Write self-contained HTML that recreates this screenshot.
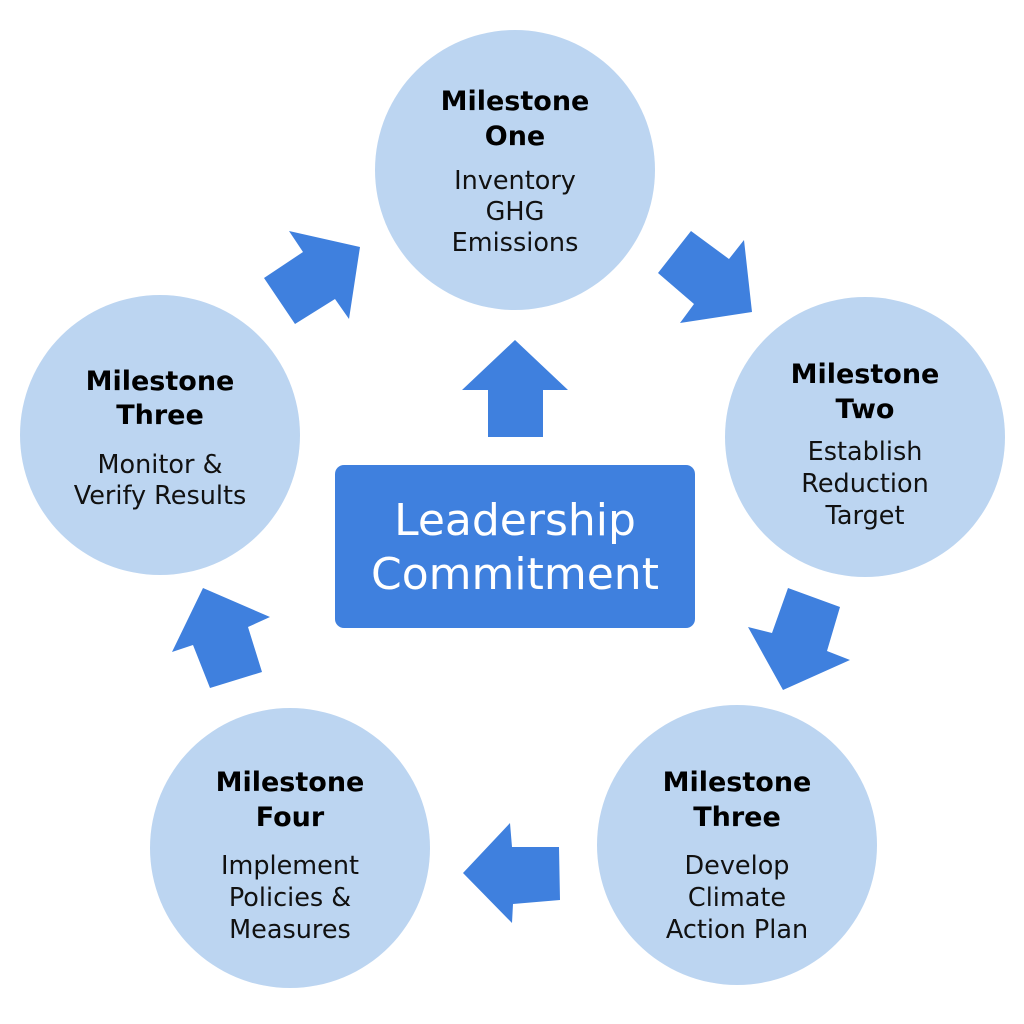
<!DOCTYPE html>
<html><head><meta charset="utf-8"><style>
html,body{margin:0;padding:0;background:#fff}
svg{display:block}
.t{font-family:"DejaVu Sans","Liberation Sans",sans-serif;font-weight:bold;font-size:27px;fill:#000;text-anchor:middle}
.b{font-family:"DejaVu Sans","Liberation Sans",sans-serif;font-size:25.5px;fill:#111;text-anchor:middle}
.c{font-family:"DejaVu Sans","Liberation Sans",sans-serif;font-size:44px;fill:#fff;text-anchor:middle}
</style></head><body>
<svg width="1024" height="1024" viewBox="0 0 1024 1024" xmlns="http://www.w3.org/2000/svg">
<g fill="#bcd5f1">
<circle cx="515" cy="170" r="140"/>
<circle cx="865" cy="437" r="140"/>
<circle cx="737" cy="845" r="140"/>
<circle cx="290" cy="848" r="140"/>
<circle cx="160" cy="435" r="140"/>
</g>
<g fill="#3f80de">
<rect x="335" y="465" width="360" height="163" rx="9"/>
<polygon points="515,340 568,390 543,390 543,437 488,437 488,390 462,390"/>
<polygon points="691,231 729,259 744,240 752,312 680,323 694,304 658,273"/>
<polygon points="289,231 303,252 264,278 295,324 335,299 349,319 360,247"/>
<polygon points="788,588 840,607 827,651 850,660 783,690 748,627 772,633"/>
<polygon points="203,588 270,617 248,627 262,672 210,688 193,645 172,652"/>
<polygon points="510,823 512,847 559,847 560,900 513,904 512,923 463,873"/>
</g>
<text class="c" x="515" y="535">Leadership</text>
<text class="c" x="515" y="589">Commitment</text>

<text class="t" x="515" y="110">Milestone</text>
<text class="t" x="515" y="145">One</text>
<text class="b" x="515" y="189">Inventory</text>
<text class="b" x="515" y="220">GHG</text>
<text class="b" x="515" y="251">Emissions</text>

<text class="t" x="865" y="383">Milestone</text>
<text class="t" x="865" y="418">Two</text>
<text class="b" x="865" y="460">Establish</text>
<text class="b" x="865" y="492">Reduction</text>
<text class="b" x="865" y="524">Target</text>

<text class="t" x="737" y="791">Milestone</text>
<text class="t" x="737" y="826">Three</text>
<text class="b" x="737" y="874">Develop</text>
<text class="b" x="737" y="906">Climate</text>
<text class="b" x="737" y="938">Action Plan</text>

<text class="t" x="290" y="791">Milestone</text>
<text class="t" x="290" y="826">Four</text>
<text class="b" x="290" y="874">Implement</text>
<text class="b" x="290" y="906">Policies &amp;</text>
<text class="b" x="290" y="938">Measures</text>

<text class="t" x="160" y="390">Milestone</text>
<text class="t" x="160" y="424">Three</text>
<text class="b" x="160" y="473">Monitor &amp;</text>
<text class="b" x="160" y="504">Verify Results</text>
</svg>
</body></html>
